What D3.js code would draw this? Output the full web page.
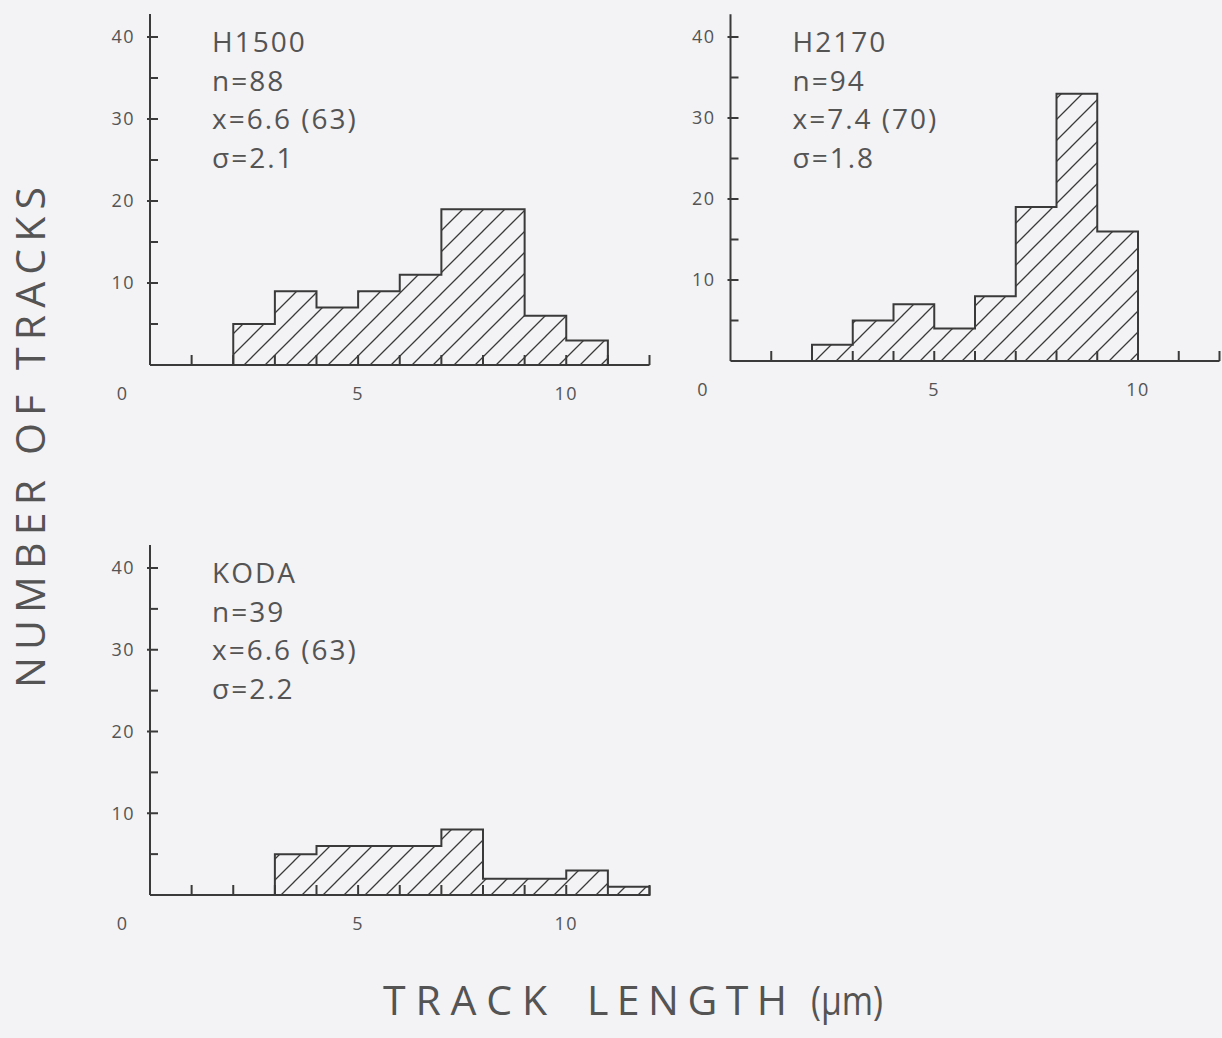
<!DOCTYPE html>
<html>
<head>
<meta charset="utf-8">
<script src="https://cdn.jsdelivr.net/npm/d3@7/dist/d3.min.js"></script>
<style>
  html, body { margin: 0; padding: 0; background: #f3f2f4; }
  svg { display: block; }
  text { font-family: "Open Sans", "DejaVu Sans", sans-serif; }
</style>
</head>
<body>
<svg id="chart" width="1222" height="1038"></svg>
<script>
// ---- data ----
const binStarts = [0, 1, 2, 3, 4, 5, 6, 7, 8, 9, 10, 11];
const countsH1500 = [0, 0, 5, 9, 7, 9, 11, 19, 19, 6, 3, 0];
const countsH2170 = [0, 0, 2, 5, 7, 4, 8, 19, 33, 16, 0, 0];
const countsKODA  = [0, 0, 0, 5, 6, 6, 6, 8, 2, 2, 3, 1];
const sampleNames = ["H1500", "H2170", "KODA"];
const sampleN     = ["n=88", "n=94", "n=39"];
const sampleMean  = ["x=6.6 (63)", "x=7.4 (70)", "x=6.6 (63)"];
const sampleSigma = ["σ=2.1", "σ=1.8", "σ=2.2"];
const yMajorTicks = [10, 20, 30, 40];
const yMinorTicks = [5, 15, 25, 35];
const xTickValues = [1, 2, 3, 4, 5, 6, 7, 8, 9, 10, 11, 12];
const xTickLabels = [5, 10];
const originLabel = "0";
const yAxisTitle = "NUMBER OF TRACKS";
const xAxisTitleWords = ["TRACK", "LENGTH", "(μm)"];

// ---- layout ----
const panels = [
  { counts: countsH1500, x0: 150, x1: 649.5, y0: 365, y40: 37 },
  { counts: countsH2170, x0: 730.5, x1: 1219.5, y0: 361, y40: 37 },
  { counts: countsKODA,  x0: 150, x1: 649.5, y0: 895, y40: 568 }
];
const ink = "#3a3a3a";
const textInk = "#545454";

const svg = d3.select("#chart");
svg.append("rect").attr("width", 1222).attr("height", 1038).attr("fill", "#f3f2f4");

const defs = svg.append("defs");
const pat = defs.append("pattern")
  .attr("id", "hatch")
  .attr("patternUnits", "userSpaceOnUse")
  .attr("width", 21).attr("height", 21);
pat.append("path")
  .attr("d", "M-3,24 L24,-3 M-6,6 L6,-6 M15,27 L27,15")
  .attr("stroke", ink).attr("stroke-width", 1.3).attr("fill", "none");

panels.forEach((p, idx) => {
  const x = d3.scaleLinear().domain([0, 12]).range([p.x0, p.x1]);
  const y = d3.scaleLinear().domain([0, 40]).range([p.y0, p.y40]);
  const g = svg.append("g");

  // histogram step outline
  const first = p.counts.findIndex(c => c > 0);
  let last = p.counts.length - 1;
  while (p.counts[last] === 0) last--;
  const pts = [];
  for (let i = first; i <= last; i++) pts.push([binStarts[i], p.counts[i]]);
  pts.push([binStarts[last] + 1, p.counts[last]]);
  const area = d3.area()
    .curve(d3.curveStepAfter)
    .x(d => x(d[0]))
    .y0(y(0))
    .y1(d => y(d[1]));
  g.append("path").attr("d", area(pts))
    .attr("fill", "url(#hatch)")
    .attr("stroke", ink).attr("stroke-width", 2)
    .attr("stroke-linejoin", "miter");

  // axes lines
  g.append("line")
    .attr("x1", x(0)).attr("x2", x(0))
    .attr("y1", y(0)).attr("y2", y(42.8))
    .attr("stroke", ink).attr("stroke-width", 2);
  g.append("line")
    .attr("x1", x(0)).attr("x2", x(12))
    .attr("y1", y(0)).attr("y2", y(0))
    .attr("stroke", ink).attr("stroke-width", 2);

  // x ticks (upward)
  g.selectAll(".xt").data(xTickValues).enter().append("line")
    .attr("x1", d => x(d)).attr("x2", d => x(d))
    .attr("y1", y(0)).attr("y2", y(0) - 10)
    .attr("stroke", ink).attr("stroke-width", 2);

  // y ticks (inward)
  g.selectAll(".ytM").data(yMajorTicks).enter().append("line")
    .attr("x1", x(0) - 3).attr("x2", x(0) + 8)
    .attr("y1", d => y(d)).attr("y2", d => y(d))
    .attr("stroke", ink).attr("stroke-width", 2);
  g.selectAll(".ytm").data(yMinorTicks).enter().append("line")
    .attr("x1", x(0)).attr("x2", x(0) + 8)
    .attr("y1", d => y(d)).attr("y2", d => y(d))
    .attr("stroke", ink).attr("stroke-width", 2);

  // y tick labels
  g.selectAll(".yl").data(yMajorTicks).enter().append("text")
    .attr("x", x(0) - 15).attr("y", d => y(d))
    .attr("dy", "0.36em")
    .attr("text-anchor", "end")
    .attr("font-size", 18).attr("letter-spacing", 1.5)
    .attr("fill", textInk)
    .text(d => d);

  // x tick labels
  g.selectAll(".xl").data(xTickLabels).enter().append("text")
    .attr("x", d => x(d)).attr("y", y(0) + 35)
    .attr("text-anchor", "middle")
    .attr("font-size", 18).attr("letter-spacing", 1.5)
    .attr("fill", textInk)
    .text(d => d);
  g.append("text")
    .attr("x", x(0) - 28).attr("y", y(0) + 35)
    .attr("text-anchor", "middle")
    .attr("font-size", 18)
    .attr("fill", textInk)
    .text(originLabel);

  // annotation block
  const lines = [sampleNames[idx], sampleN[idx], sampleMean[idx], sampleSigma[idx]];
  g.selectAll(".ann").data(lines).enter().append("text")
    .attr("x", x(0) + 62)
    .attr("y", (d, i) => y(40) + 15 + i * 38.5)
    .attr("font-size", 28).attr("letter-spacing", 2)
    .attr("fill", textInk)
    .text(d => d);
});

// axis titles
svg.append("text")
  .attr("transform", "translate(45,688) rotate(-90)")
  .attr("font-size", 41)
  .attr("textLength", 501).attr("lengthAdjust", "spacing")
  .attr("fill", textInk)
  .text(yAxisTitle);

const titleX = [383, 587, 811];
const titleW = [164, 200, 72];
const titleAdjust = ["spacing", "spacing", "spacingAndGlyphs"];
xAxisTitleWords.forEach((w, i) => {
  svg.append("text")
    .attr("x", titleX[i]).attr("y", 1015)
    .attr("font-size", 41)
    .attr("textLength", titleW[i]).attr("lengthAdjust", titleAdjust[i])
    .attr("fill", textInk)
    .text(w);
});
</script>
</body>
</html>
